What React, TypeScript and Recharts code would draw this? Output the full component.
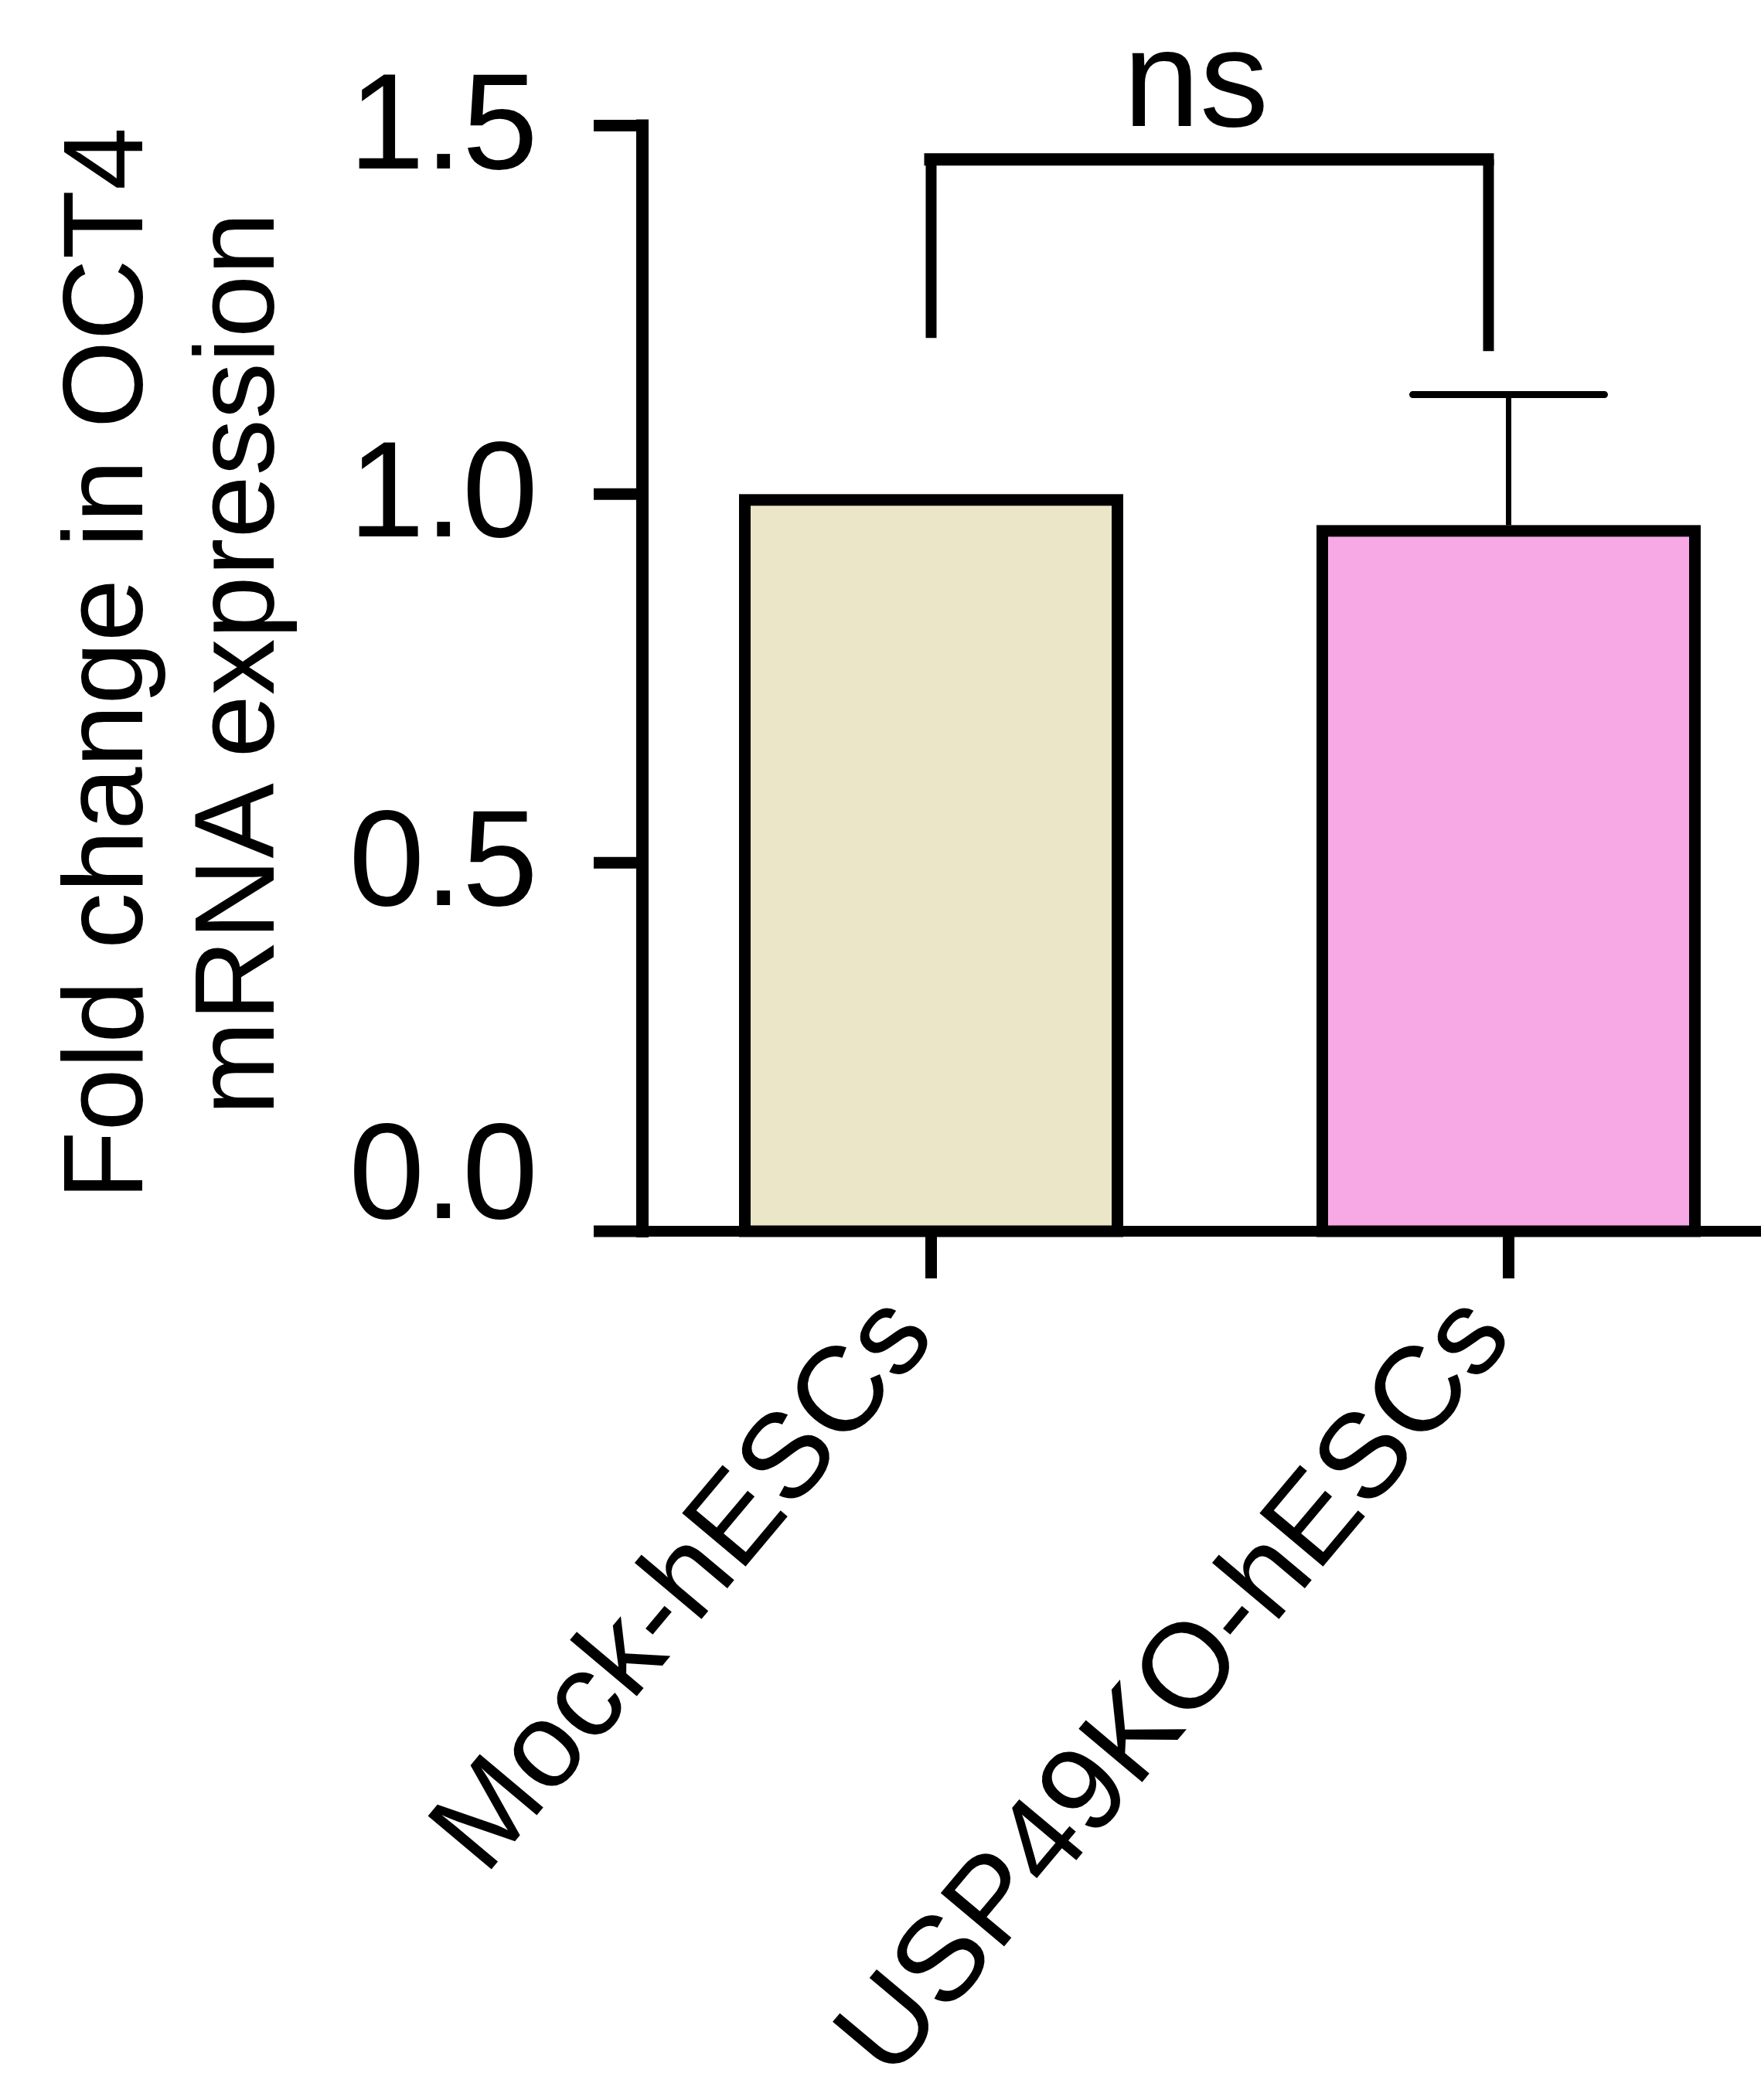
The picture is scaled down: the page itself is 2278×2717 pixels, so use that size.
import React from 'react'
import { BarChart, Bar, XAxis, YAxis, ReferenceLine, Label, Cell } from 'recharts'

const categories = ['Mock-hESCs', 'USP49KO-hESCs']
const foldChange = [1.0, 0.958]
const errorUp = [0, 0.177]
const yTicks = [0, 0.5, 1.0, 1.5]
const barColors = ['#ECE6C9', '#F6A9E5']
const yTitle = ['Fold change in OCT4', 'mRNA expression']
// bracket: top bar, bottom of left leg, bottom of right leg
const bracketY = [1.454, 1.212, 1.194]
const bracketText = 'ns'

const data = categories.map((name, i) => ({ name, value: foldChange[i], err: errorUp[i] }))

const FONT = '"Liberation Sans", Arial, Helvetica, sans-serif'
const STROKE = 15
const RIGHT_LEG_SHIFT = 26

function BarShape(props: any) {
  const { x, y, width, height, payload, fill } = props
  const half = STROKE / 2
  const perUnit = height / payload.value
  const cx = x + width / 2
  const errTop = y - payload.err * perUnit
  return (
    <g>
      {payload.err > 0 && (
        <g>
          <line x1={cx} x2={cx} y1={y} y2={errTop} stroke="#000" strokeWidth={7} />
          <line x1={cx - 124} x2={cx + 124} y1={errTop} y2={errTop} stroke="#000" strokeWidth={9} strokeLinecap="round" />
        </g>
      )}
      <rect x={x + half} y={y + half} width={width - STROKE} height={height - half} fill={fill} stroke="#000" strokeWidth={STROKE} />
    </g>
  )
}

function YTick(props: any) {
  const { x, y, payload } = props
  const lift = payload.value === 0 ? 80 : 8
  return (
    <text x={x} y={y - lift + 63} textAnchor="end" fontSize={176} fontFamily={FONT} fill="#000">
      {Number(payload.value).toFixed(1)}
    </text>
  )
}

function XTick(props: any) {
  const { x, y, payload } = props
  const ax = x + 8
  const ay = y + 77
  return (
    <text x={ax} y={ay} transform={`rotate(-50, ${ax}, ${ay})`} textAnchor="end" fontSize={156} fontFamily={FONT} fill="#000">
      {payload.value}
    </text>
  )
}

function YTitle(props: any) {
  const vb = props.viewBox || { x: 0, y: 162.5, width: 831, height: 1430.5 }
  const cy = vb.y + vb.height / 2 - 19
  const baselines = [vb.x + 184, vb.x + 354]
  return (
    <g>
      {yTitle.map((t, i) => (
        <text key={t} x={baselines[i]} y={cy} transform={`rotate(-90, ${baselines[i]}, ${cy})`}
          textAnchor="middle" fontSize={146} fontFamily={FONT} fill="#000">{t}</text>
      ))}
    </g>
  )
}

function BracketTop(props: any) {
  const { x1, y1, x2 } = props
  const right = x2 - RIGHT_LEG_SHIFT
  return (
    <g>
      <line x1={x1 - 9} x2={right + 7} y1={y1} y2={y1} stroke="#000" strokeWidth={16} />
      <text x={(x1 + right) / 2 - 18} y={y1 - 43} textAnchor="middle" fontSize={178} fontFamily={FONT} fill="#000">
        {bracketText}
      </text>
    </g>
  )
}

function BracketLeg(props: any) {
  const { x1, y1, x2, y2, shift = 0 } = props
  return <line x1={x1 - shift} x2={x2 - shift} y1={y1} y2={y2} stroke="#000" strokeWidth={14} />
}

export default function App() {
  return (
    <div style={{ position: 'absolute', left: 0, top: 0, width: 2278, height: 2717, overflow: 'hidden', background: '#fff' }}>
      <BarChart width={2325} height={2717} data={data} barSize={497}
        margin={{ top: 162.5, right: 0, bottom: 0, left: 0 }}>
        <XAxis dataKey="name" height={1124} interval={0} tickSize={61} tickMargin={0}
          axisLine={{ stroke: '#000', strokeWidth: 14 }}
          tickLine={{ stroke: '#000', strokeWidth: 15 }}
          tick={<XTick />} />
        <YAxis type="number" domain={[0, 1.5]} ticks={yTicks} interval={0} width={831}
          tickSize={63} tickMargin={72}
          axisLine={{ stroke: '#000', strokeWidth: 16, strokeLinecap: 'square' }}
          tickLine={{ stroke: '#000', strokeWidth: 15 }}
          tick={<YTick />}>
          <Label content={YTitle} />
        </YAxis>
        <Bar dataKey="value" isAnimationActive={false} shape={BarShape}>
          {data.map((d, i) => <Cell key={d.name} fill={barColors[i]} />)}
        </Bar>
        <ReferenceLine segment={[{ x: categories[0], y: bracketY[0] }, { x: categories[0], y: bracketY[1] }]}
          shape={(p: any) => <BracketLeg {...p} />} />
        <ReferenceLine segment={[{ x: categories[1], y: bracketY[0] }, { x: categories[1], y: bracketY[2] }]}
          shape={(p: any) => <BracketLeg {...p} shift={RIGHT_LEG_SHIFT} />} />
        <ReferenceLine segment={[{ x: categories[0], y: bracketY[0] }, { x: categories[1], y: bracketY[0] }]}
          shape={(p: any) => <BracketTop {...p} />} />
      </BarChart>
    </div>
  )
}
